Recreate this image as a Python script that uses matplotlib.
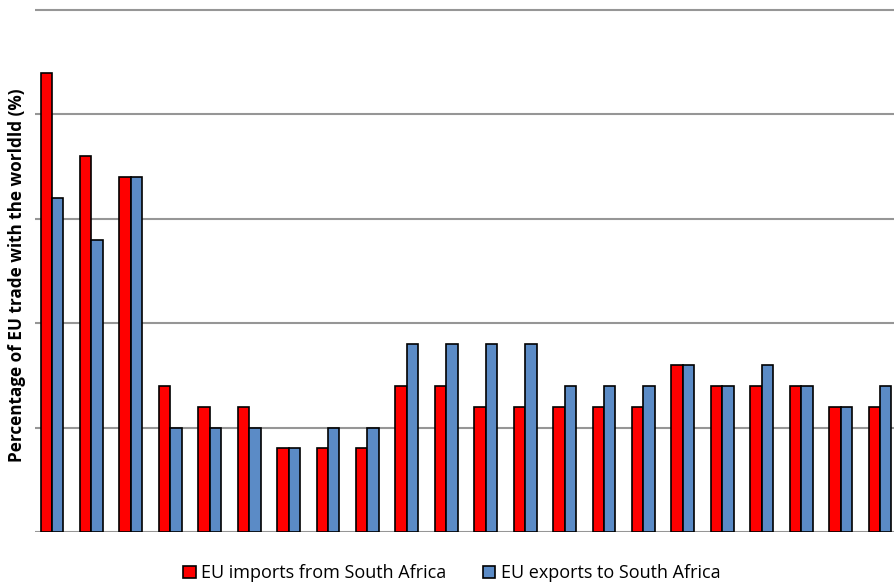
import numpy as np
import matplotlib.pyplot as plt
from matplotlib.patches import Patch

# === Data (percentage of EU trade with the world) ===
groups = list(range(1, 23))
imports_sa = [4.4, 3.6, 3.4, 1.4, 1.2, 1.2, 0.8, 0.8, 0.8, 1.4, 1.4,
              1.2, 1.2, 1.2, 1.2, 1.2, 1.6, 1.4, 1.4, 1.4, 1.2, 1.2]
exports_sa = [3.2, 2.8, 3.4, 1.0, 1.0, 1.0, 0.8, 1.0, 1.0, 1.8, 1.8,
              1.8, 1.8, 1.4, 1.4, 1.4, 1.6, 1.4, 1.6, 1.4, 1.2, 1.4]
grid_levels = [0, 1, 2, 3, 4, 5]

plt.rcParams['font.family'] = ['Open Sans', 'DejaVu Sans']

fig = plt.figure(figsize=(8.95, 5.85), dpi=100)
ax = fig.add_axes([35 / 895, 53 / 585, 860 / 895, 532 / 585])

x = np.arange(len(groups))
w = 0.29
ax.bar(x - w / 2, imports_sa, width=w, color='#ff0000', edgecolor='black', linewidth=1.2, zorder=3)
ax.bar(x + w / 2, exports_sa, width=w, color='#5b8bc6', edgecolor='black', linewidth=1.2, zorder=3)

for g in grid_levels:
    ax.axhline(g, color='#969696', linewidth=1.5, zorder=1)

ax.set_xlim(-0.431, 21.38)
ax.set_ylim(0, 5.096)
ax.set_xticks([])
ax.set_yticks([])
for s in ax.spines.values():
    s.set_visible(False)

fig.text(0.019, 0.53, 'Percentage of EU trade with the worldld (%)', rotation=90,
         ha='center', va='center', fontsize=12.3, fontweight='bold')

handles = [Patch(facecolor='#ff0000', edgecolor='black', linewidth=1.2),
           Patch(facecolor='#5b8bc6', edgecolor='black', linewidth=1.2)]
fig.legend(handles, ['EU imports from South Africa', 'EU exports to South Africa'],
           loc='center', bbox_to_anchor=(0.505, 0.02), ncol=2, frameon=False,
           fontsize=13, handlelength=0.7, handleheight=0.7, handletextpad=0.3,
           columnspacing=2.0)

fig.savefig('out.png', dpi=100)
